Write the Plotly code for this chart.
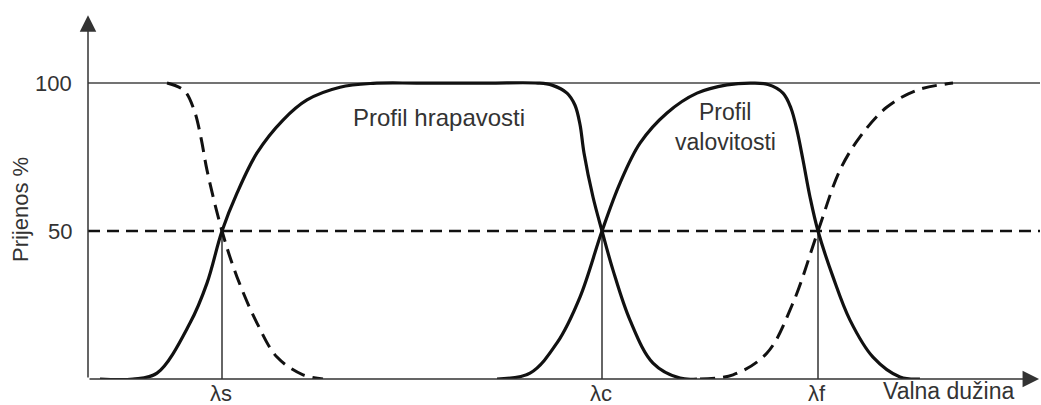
import plotly.graph_objects as go

# Wavelength axis in arbitrary units, transmission in %
lam_s, lam_c, lam_f = 13.4, 51.4, 73.0
x_max, y_max = 95.2, 123.0

# Roughness profile (solid): rises at lambda_s, falls at lambda_c
rough_x = [1.2, 4.5, 6.9, 10.2, 11.9, 13.4, 14.9, 16.9, 19.5, 21.9, 25.2, 28.5, 33.0, 40.0, 45.0,
           46.4, 47.9, 48.7, 49.2, 49.6, 50.5, 51.4, 52.5, 54.2, 56.5, 59.2, 60.9]
rough_y = [0, 0, 2.0, 18.9, 32.4, 50, 62.8, 76.4, 87.5, 94.3, 98.6, 99.9, 100, 100, 100,
           99.3, 96.6, 92.5, 86.0, 76.4, 61.5, 50, 36.8, 19.9, 5.4, 0.3, 0]

# Waviness profile (solid): rises at lambda_c, falls at lambda_f
wav_x = [40.9, 44.2, 46.9, 49.2, 51.4, 53.2, 55.2, 57.9, 60.9, 63.9, 66.5, 68.0,
         69.5, 70.3, 70.9, 71.5, 72.2, 73.0, 74.5, 76.2, 78.5, 81.2, 83.2]
wav_y = [0, 2.0, 12.2, 27.7, 50, 66.2, 79.7, 89.9, 96.6, 99.4, 100, 99.5,
         96.6, 91.5, 84.0, 74.0, 61.5, 50, 34.5, 19.9, 7.4, 0.7, 0]

# Dashed: short-wave filter (falling at lambda_s)
ls_x = [7.9, 9.6, 10.6, 11.3, 11.9, 13.4, 14.9, 16.9, 18.9, 21.5, 23.5]
ls_y = [100, 97.5, 91.0, 81.5, 70.6, 50, 34.5, 18.9, 7.4, 1.4, 0]

# Dashed: long-wave filter (rising at lambda_f)
lf_x = [61.2, 64.5, 67.9, 70.5, 73.0, 75.2, 77.2, 79.9, 82.9, 86.5]
lf_y = [0, 1.4, 8.8, 25.7, 50, 70.6, 81.8, 91.9, 97.6, 100]

y_ticks = [100, 50]
y_tick_labels = ["100", "50"]
cutoffs = [lam_s, lam_c, lam_f]
cutoff_labels = ["λs", "λc", "λf"]

INK = "#111111"
THIN = "#333333"
TXT = "#333333"
FONT = "Liberation Sans, Arial, sans-serif"

fig = go.Figure()

# reference lines at 100 and 50
fig.add_trace(go.Scatter(x=[0, x_max], y=[100, 100], mode="lines",
                         line=dict(color="#444444", width=1.5), hoverinfo="skip"))
fig.add_trace(go.Scatter(x=[0, x_max], y=[50, 50], mode="lines",
                         line=dict(color=INK, width=2.5, dash="12px,7px"), hoverinfo="skip"))
# cutoff verticals
for c in cutoffs:
    fig.add_trace(go.Scatter(x=[c, c], y=[0, 50], mode="lines",
                             line=dict(color=THIN, width=1.5), hoverinfo="skip"))

fig.add_trace(go.Scatter(x=ls_x, y=ls_y, mode="lines",
                         line=dict(color=INK, width=3, dash="15px,8px", shape="spline", smoothing=1.0)))
fig.add_trace(go.Scatter(x=lf_x, y=lf_y, mode="lines",
                         line=dict(color=INK, width=3, dash="15px,8px", shape="spline", smoothing=1.0)))
fig.add_trace(go.Scatter(x=rough_x, y=rough_y, mode="lines",
                         line=dict(color=INK, width=3.2, shape="spline", smoothing=1.0)))
fig.add_trace(go.Scatter(x=wav_x, y=wav_y, mode="lines",
                         line=dict(color=INK, width=3.2, shape="spline", smoothing=1.0)))

ann = []
# axes with arrows
ann.append(dict(x=0, y=y_max * 0.999, ax=0, ay=0, xref="x", yref="y", axref="x", ayref="y",
                showarrow=True, arrowhead=2, arrowsize=2.2, arrowwidth=1.5, arrowcolor=THIN,
                standoff=0, text=""))
ann.append(dict(x=x_max * 0.999, y=0, ax=0, ay=0, xref="x", yref="y", axref="x", ayref="y",
                showarrow=True, arrowhead=2, arrowsize=2.2, arrowwidth=1.5, arrowcolor=THIN,
                standoff=0, text=""))
for v, t in zip(y_ticks, y_tick_labels):
    ann.append(dict(x=-0.0147, y=v, xref="paper", yref="y", text=t, showarrow=False,
                    xanchor="right", yanchor="middle", font=dict(size=22, color=TXT, family=FONT)))
for c, t in zip(cutoffs, cutoff_labels):
    ann.append(dict(x=c - 0.1, y=-0.0385, xref="x", yref="paper", text=t, showarrow=False,
                    xanchor="center", yanchor="middle", font=dict(size=22, color=TXT, family=FONT)))
ann.append(dict(x=86.0, y=-0.0714, xref="x", yref="paper", text="Valna dužina", showarrow=False,
                xanchor="center", yanchor="bottom", borderpad=0,
                font=dict(size=23, color=TXT, family=FONT)))
ann.append(dict(x=-0.0714, y=57.1, xref="paper", yref="y", text="Prijenos %", showarrow=False,
                textangle=-90, xanchor="center", yanchor="middle",
                font=dict(size=22, color=TXT, family=FONT)))
ann.append(dict(x=35.1, y=88.5, xref="x", yref="y", text="Profil hrapavosti", showarrow=False,
                xanchor="center", yanchor="middle", font=dict(size=24, color=TXT, family=FONT)))
ann.append(dict(x=63.7, y=90.2, xref="x", yref="y", text="Profil", showarrow=False,
                xanchor="center", yanchor="middle", font=dict(size=23, color=TXT, family=FONT)))
ann.append(dict(x=63.7, y=80.1, xref="x", yref="y", text="valovitosti", showarrow=False,
                xanchor="center", yanchor="middle", font=dict(size=23, color=TXT, family=FONT)))

fig.update_layout(
    width=1041, height=405,
    margin=dict(l=88, r=1, t=15, b=26),
    paper_bgcolor="white", plot_bgcolor="white",
    showlegend=False,
    annotations=ann,
    xaxis=dict(range=[0, x_max], visible=False, fixedrange=True),
    yaxis=dict(range=[0, y_max], visible=False, fixedrange=True),
)

fig.write_html("out.html", config={"displayModeBar": False},
               post_script="document.body.style.margin='0';document.body.style.overflow='hidden';")
